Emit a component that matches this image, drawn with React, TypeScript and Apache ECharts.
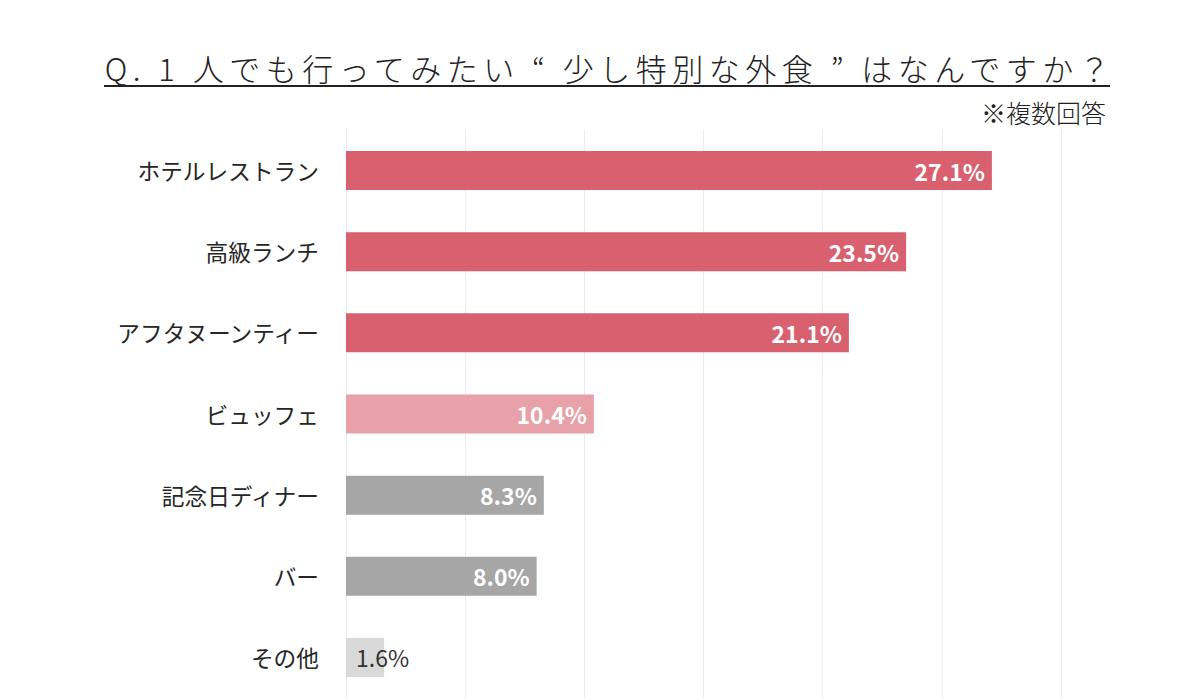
import React, { useEffect, useRef } from "react";
import * as echarts from "echarts";

const TITLE = "Q. 1 人でも行ってみたい “ 少し特別な外食 ” はなんですか？";
const NOTE = "※複数回答";

const categories = [
  "ホテルレストラン",
  "高級ランチ",
  "アフタヌーンティー",
  "ビュッフェ",
  "記念日ディナー",
  "バー",
  "その他",
];
const values = [27.1, 23.5, 21.1, 10.4, 8.3, 8.0, 1.6];
const barColors = [
  "#d9606f",
  "#d9606f",
  "#d9606f",
  "#e8a1a8",
  "#a6a6a6",
  "#a6a6a6",
  "#d9d9d9",
];

const FONT = "'Noto Sans CJK JP', 'Noto Sans', sans-serif";

export default function App() {
  const ref = useRef<HTMLDivElement>(null);

  useEffect(() => {
    if (!ref.current) return;
    const chart = echarts.init(ref.current, undefined, { renderer: "svg" });

    const data = values.map((v, i) => {
      const last = i === values.length - 1;
      return {
        value: v,
        itemStyle: { color: barColors[i] },
        label: last
          ? {
              position: "insideLeft",
              distance: 10,
              color: "#333333",
              fontWeight: "normal",
            }
          : undefined,
      };
    });

    chart.setOption({
      animation: false,
      backgroundColor: "#ffffff",
      textStyle: { fontFamily: FONT },
      grid: { left: 346, right: 139, top: 130, bottom: 2, containLabel: false },
      xAxis: {
        type: "value",
        min: 0,
        max: 30,
        interval: 5,
        axisLabel: { show: false },
        axisLine: { show: false },
        axisTick: { show: false },
        splitLine: { show: true, lineStyle: { color: "#ebebeb", width: 1 } },
      },
      yAxis: {
        type: "category",
        inverse: true,
        data: categories,
        axisLine: { show: false },
        axisTick: { show: false },
        axisLabel: {
          margin: 27,
          fontSize: 22.7,
          color: "#262626",
          fontWeight: "normal",
          fontFamily: FONT,
        },
      },
      series: [
        {
          type: "bar",
          data,
          barWidth: 39,
          label: {
            show: true,
            position: "insideRight",
            distance: 7,
            color: "#ffffff",
            fontSize: 23,
            fontWeight: "bold",
            fontFamily: FONT,
            formatter: (p: any) => `${Number(p.value).toFixed(1)}%`,
          },
        },
      ],
      graphic: [
        {
          type: "text",
          id: "title",
          x: 610,
          y: 67,
          style: {
            text: TITLE,
            fontSize: 31,
            fontWeight: 300,
            fontFamily: FONT,
            fill: "#222222",
            align: "center",
            verticalAlign: "middle",
          },
        },
        {
          type: "line",
          shape: { x1: 104, y1: 86, x2: 1110, y2: 86 },
          style: { stroke: "#222222", lineWidth: 2 },
        },
        {
          type: "text",
          x: 1106,
          y: 112,
          style: {
            text: NOTE,
            fontSize: 25,
            fontWeight: 300,
            fontFamily: FONT,
            fill: "#222222",
            align: "right",
            verticalAlign: "middle",
          },
        },
      ],
    });

    // widen the title's character spacing
    ref.current.querySelectorAll("text").forEach((t) => {
      if (t.textContent === TITLE) t.setAttribute("letter-spacing", "5.5");
    });

    return () => chart.dispose();
  }, []);

  return (
    <div
      ref={ref}
      style={{ position: "fixed", left: 0, top: 0, width: 1200, height: 700 }}
    />
  );
}
